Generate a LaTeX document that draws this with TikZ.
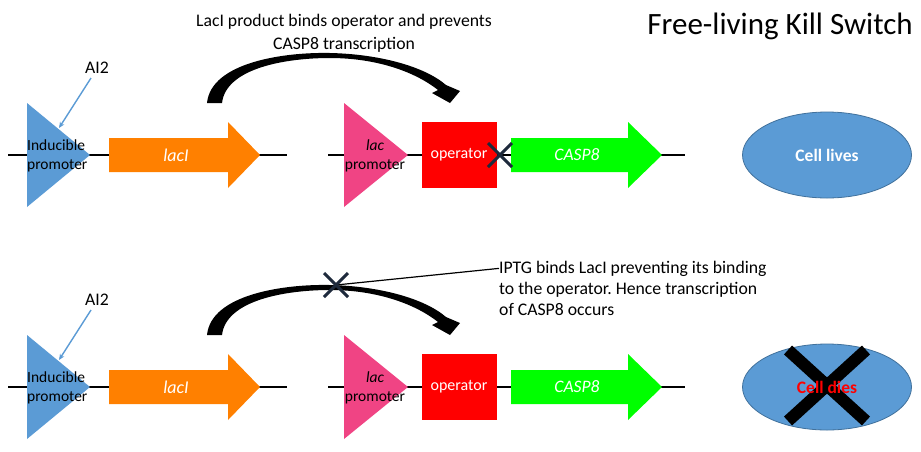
\documentclass[tikz,border=0pt]{standalone}
\usepackage{fontspec}
\setmainfont{Carlito}
\usetikzlibrary{arrows.meta,shapes.geometric}
\definecolor{pblue}{RGB}{91,155,213}
\definecolor{pblueedge}{RGB}{65,113,156}
\definecolor{porange}{RGB}{255,128,0}
\definecolor{ppink}{RGB}{240,68,132}
\definecolor{pred}{RGB}{255,0,0}
\definecolor{pgreen}{RGB}{0,255,0}
\definecolor{xnavy}{RGB}{30,42,60}
\frenchspacing
\begin{document}
\begin{tikzpicture}[x=1pt,y=-1pt,
  dna/.style={line width=2.6pt,black},
  lbl/.style={inner sep=0pt,font=\fontsize{15.5}{18}\selectfont},
  wlbl/.style={inner sep=0pt,text=white,font=\fontsize{17.5}{20}\selectfont},
  txt/.style={inner sep=0pt,font=\fontsize{17.7}{21}\selectfont},
  xmark/.style={line width=3pt,xnavy},
  cellnode/.style={ellipse,draw=pblueedge,fill=pblue,line width=0.8pt,minimum width=169pt,minimum height=86pt,inner sep=0pt,font=\fontsize{17.5}{20}\selectfont\bfseries}
]
\useasboundingbox (0,0) rectangle (921,451);
\fill[white] (0,0) rectangle (921,451);

\foreach \dy/\r in {0/a,232/b}{
\begin{scope}[shift={(0,\dy)}]
  % DNA backbone
  \draw[dna] (8,155) -- (287,155);
  \draw[dna] (328,155) -- (685,155);
  % inducible promoter
  \fill[pblue] (27,103) -- (90,155) -- (27,207) -- cycle;
  \node[lbl,anchor=base west] (ind\r) at (27,150) {Inducible};
  \node[lbl,anchor=base west] (indp\r) at (27,169) {promoter};
  % lacI gene
  \fill[porange] (109,138) -- (228,138) -- (228,122) -- (260,155) -- (228,188) -- (228,172) -- (109,172) -- cycle;
  \node[wlbl,font=\fontsize{18}{20}\selectfont\itshape] (laci\r) at (176,155) {lacI};
  % lac promoter
  \fill[ppink] (344,103) -- (408,155) -- (344,207) -- cycle;
  \node[lbl,anchor=base,font=\fontsize{15.5}{18}\selectfont\itshape] (lac\r) at (375,150) {lac};
  \node[lbl,anchor=base] (lacp\r) at (375,169) {promoter};
  % operator
  \fill[pred] (422,122) rectangle (497,188);
  \node[wlbl,font=\fontsize{16}{18}\selectfont] (op\r) at (459,155) {operator};
  % CASP8 gene
  \fill[pgreen] (511,138) -- (628,138) -- (628,122) -- (662,155) -- (628,188) -- (628,172) -- (511,172) -- cycle;
  \node[wlbl,font=\fontsize{17.5}{20}\selectfont\itshape] (casp\r) at (577,155) {CASP8};
  % AI2 signal
  \node[txt] (ai\r) at (97,68) {AI2};
  \coordinate (aitip\r) at (59,128);
  \draw[pblue,line width=1.4pt,-{Stealth[length=6pt,width=5pt]}] (91,78) -- (aitip\r);
  % curved repression arrow
  \fill[black] (207,103) .. controls (211,62) and (285,52) .. (330,53)
     .. controls (378,54) and (424,66) .. (446,85)
     -- (460,91) -- (450,103) -- (432,93) -- (438,90)
     .. controls (414,71) and (375,58) .. (330,58)
     .. controls (286,58) and (226,68) .. (222,103) -- cycle;
\end{scope}
}

% top row specifics
\draw[xmark] (488,143) -- (512,167) (512,143) -- (488,167);
\node[cellnode,text=white] (cella) at (827,155) {Cell lives};

% bottom row specifics
\node[txt,anchor=base west] (ip1) at (499,273) {IPTG binds LacI preventing its binding};
\node[txt,anchor=base west] (ip2) at (499,294) {to the operator. Hence transcription};
\node[txt,anchor=base west] (ip3) at (499,315) {of CASP8 occurs};
\coordinate (xb) at (336,285);
\draw[line width=1.2pt,black] (xb) -- (ip1.west);
\draw[xmark] (324,273) -- (348,297) (348,273) -- (324,297);
\node[cellnode] (cellb) at (827,387) {};
\draw[line width=12pt,black] (788,350) -- (866,421) (866,350) -- (788,421);
\node[font=\fontsize{17.5}{20}\selectfont\bfseries,text=pred,inner sep=0pt] (dies) at (cellb.center) {Cell dies};

% titles
\node[txt,anchor=base] (t1) at (344,26) {LacI product binds operator and prevents};
\node[txt,anchor=base] (t2) at (344,49) {CASP8 transcription};
\node[inner sep=0pt,anchor=base east,font=\fontsize{31}{36}\selectfont] (title) at (913,34) {Free-living Kill Switch};
\end{tikzpicture}
\end{document}
